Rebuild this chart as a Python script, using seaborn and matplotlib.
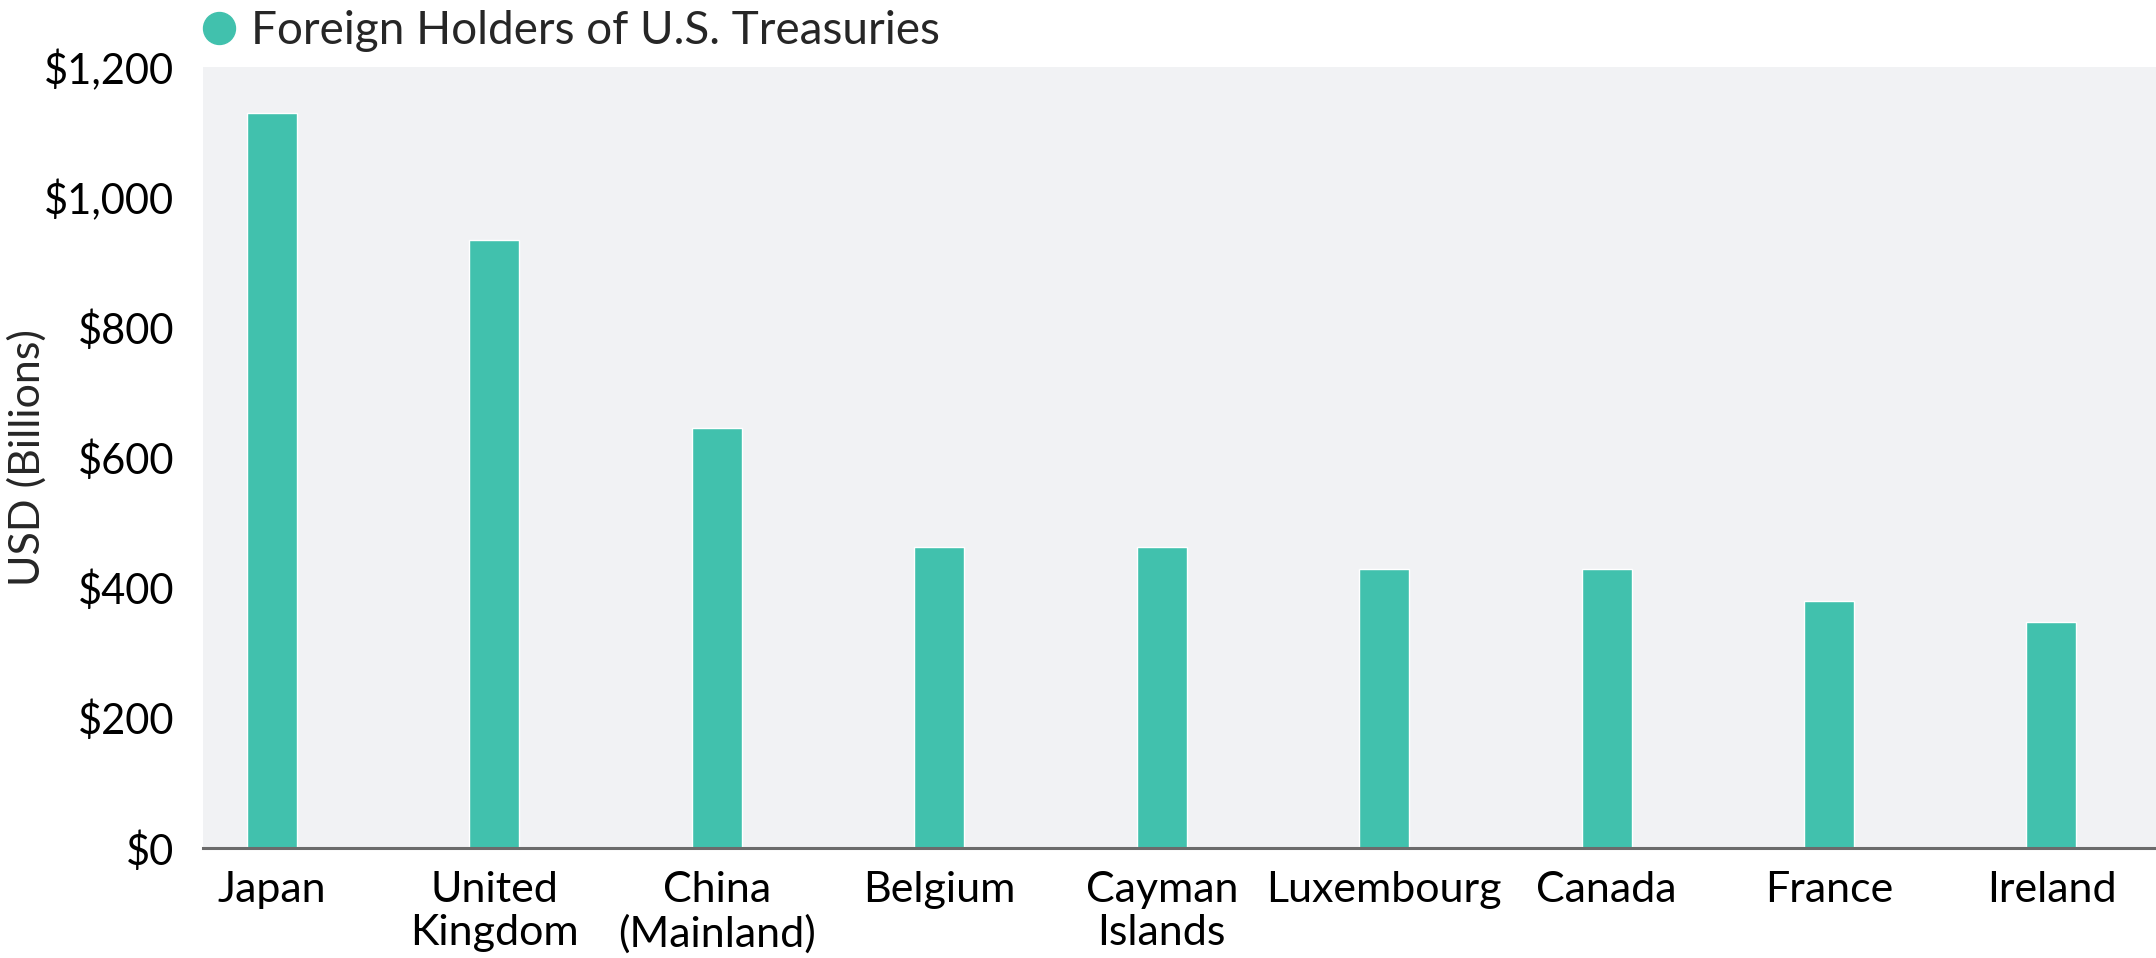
import matplotlib.pyplot as plt
import pandas as pd
import seaborn as sns
from matplotlib.lines import Line2D

countries = ['Japan', 'United\nKingdom', 'China\n(Mainland)', 'Belgium', 'Cayman\nIslands',
             'Luxembourg', 'Canada', 'France', 'Ireland']
holdings = [1130, 934, 646, 463, 463, 428, 428, 379, 347]
y_ticks = [0, 200, 400, 600, 800, 1000, 1200]
y_tick_labels = ['$0', '$200', '$400', '$600', '$800', '$1,000', '$1,200']

BAR_COLOR = '#41C1AD'
BG_COLOR = '#F1F2F4'

df = pd.DataFrame({'Country': countries, 'Holdings': holdings})

sns.set_theme(style='white')
plt.rcParams['font.family'] = ['Lato', 'DejaVu Sans']

fig = plt.figure(figsize=(21.56, 9.58), dpi=100)
ax = fig.add_axes([0.0942, 0.115, 0.9058, 0.815])
ax.set_facecolor(BG_COLOR)

sns.barplot(data=df, x='Country', y='Holdings', color=BAR_COLOR, saturation=1,
            width=0.225, ax=ax)

ax.set_xlim(-0.31, 8.47)
ax.set_ylim(0, 1200)
ax.set_yticks(y_ticks)
ax.set_yticklabels(y_tick_labels)
ax.tick_params(axis='y', length=0, pad=21, labelsize=30, colors='black')
ax.tick_params(axis='x', length=0, pad=17, labelsize=31, colors='black')
for lbl in ax.get_xticklabels():
    lbl.set_linespacing(1.15)

ax.set_xlabel('')
ax.set_ylabel('USD (Billions)', fontsize=31)
ax.yaxis.set_label_coords(-0.08, 0.5)

for side in ['top', 'right', 'left']:
    ax.spines[side].set_visible(False)
ax.spines['bottom'].set_color('#6b6b6b')
ax.spines['bottom'].set_linewidth(2.2)

# legend: teal dot + series name above the plot area
handle = Line2D([], [], marker='o', linestyle='', markersize=23,
                markerfacecolor=BAR_COLOR, markeredgecolor=BAR_COLOR)
fig.legend([handle], ['Foreign Holders of U.S. Treasuries'], loc='center left',
           bbox_to_anchor=(201 / 2156, 0.968), frameon=False, fontsize=33,
           handlelength=0.8, handletextpad=0.3, borderaxespad=0, borderpad=0)

fig.savefig('out.png', dpi=100)
